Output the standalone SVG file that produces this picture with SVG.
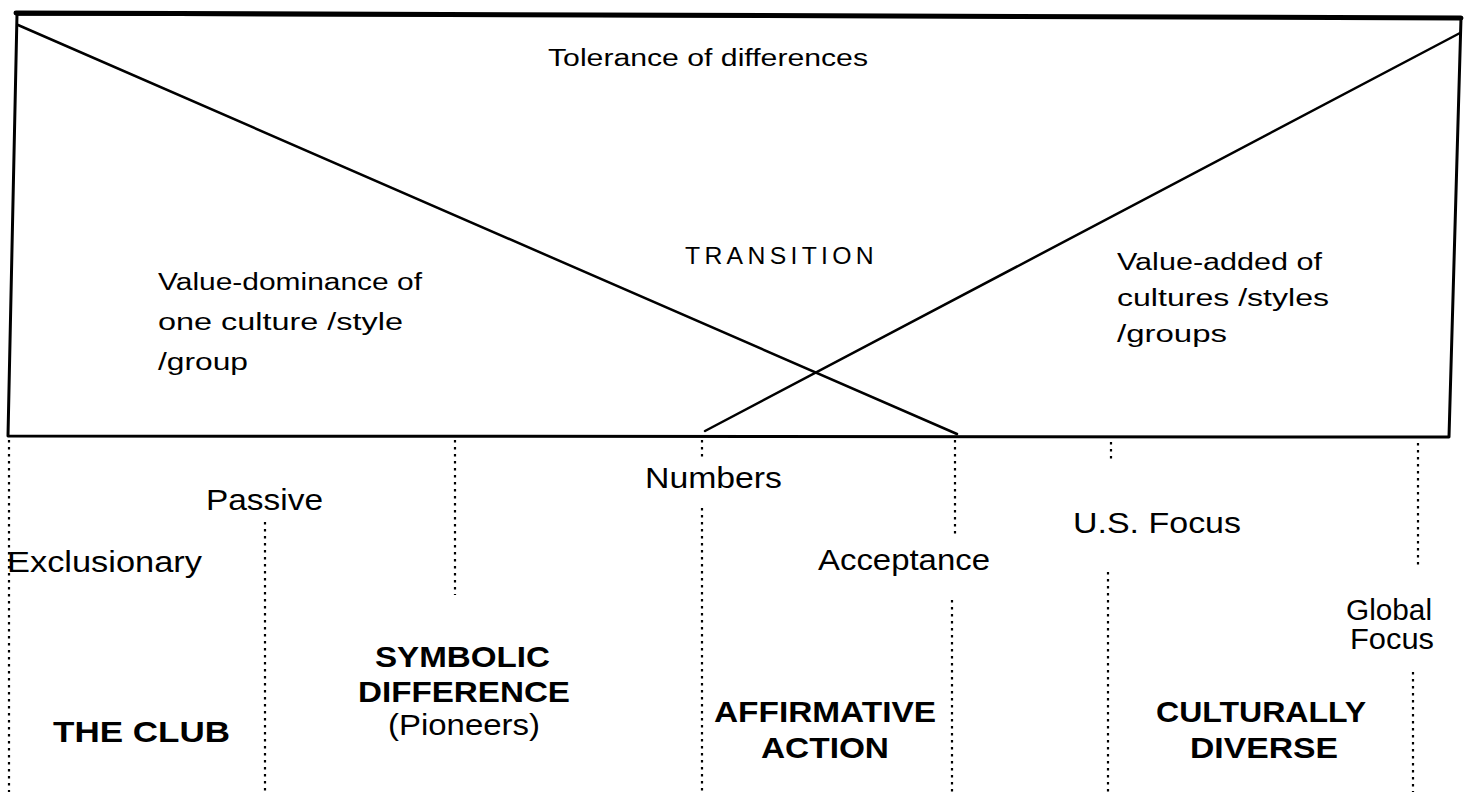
<svg xmlns="http://www.w3.org/2000/svg" width="1469" height="794" viewBox="0 0 1469 794">
<style>
.edge{stroke:#000;fill:none;stroke-linecap:round;stroke-linejoin:round}
.dot{stroke:#000;stroke-width:2.2;stroke-dasharray:2.5 4.5;fill:none}
.up{font-family:"Liberation Sans",Arial,sans-serif;font-size:23px;fill:#000}
.lo{font-family:"Liberation Sans",Arial,sans-serif;font-size:29px;fill:#000}
.bd{font-family:"Liberation Sans",Arial,sans-serif;font-size:30px;font-weight:bold;fill:#000}
</style>
<rect width="1469" height="794" fill="#fff"/>
<g id="frame">
<polygon class="edge" stroke-width="3" points="17,14 1461,18 1449,437 8,436"/>
<line class="edge" stroke-width="5" x1="16" y1="13" x2="1461" y2="18"/>
</g>
<g id="connectors">
<line class="edge" stroke-width="2.5" x1="18" y1="25" x2="957" y2="434"/>
<line class="edge" stroke-width="2.5" x1="705" y1="431" x2="1460" y2="33"/>
<path class="dot" d="M9,440V792 M265,522V792 M455,440V595 M702,440V460 M702,508V792 M955,440V535 M952,600V792 M1111,442V462 M1108,572V792 M1418,443V567 M1413,672V792"/>
</g>
<g id="tolerance"><text class="up" x="548" y="66" textLength="320" lengthAdjust="spacingAndGlyphs">Tolerance of differences</text></g>
<g id="transition"><text class="up" x="685" y="264" font-size="25" textLength="193" lengthAdjust="spacingAndGlyphs" letter-spacing="4">TRANSITION</text></g>
<g id="value-dominance">
<text class="up" x="158" y="290" textLength="264" lengthAdjust="spacingAndGlyphs">Value-dominance of</text>
<text class="up" x="158" y="330" textLength="245" lengthAdjust="spacingAndGlyphs">one culture /style</text>
<text class="up" x="158" y="370" textLength="90" lengthAdjust="spacingAndGlyphs">/group</text>
</g>
<g id="value-added">
<text class="up" x="1117" y="270" textLength="205" lengthAdjust="spacingAndGlyphs">Value-added of</text>
<text class="up" x="1117" y="306" textLength="212" lengthAdjust="spacingAndGlyphs">cultures /styles</text>
<text class="up" x="1117" y="342" textLength="110" lengthAdjust="spacingAndGlyphs">/groups</text>
</g>
<g id="passive"><text class="lo" x="206" y="510" textLength="117" lengthAdjust="spacingAndGlyphs">Passive</text></g>
<g id="exclusionary"><text class="lo" x="7" y="572" textLength="195" lengthAdjust="spacingAndGlyphs">Exclusionary</text></g>
<g id="numbers"><text class="lo" x="645" y="488" textLength="137" lengthAdjust="spacingAndGlyphs">Numbers</text></g>
<g id="acceptance"><text class="lo" x="818" y="570" textLength="172" lengthAdjust="spacingAndGlyphs">Acceptance</text></g>
<g id="us-focus"><text class="lo" x="1073" y="533" textLength="168" lengthAdjust="spacingAndGlyphs">U.S. Focus</text></g>
<g id="global-focus">
<text class="lo" x="1346" y="620" font-size="24" textLength="86" lengthAdjust="spacingAndGlyphs">Global</text>
<text class="lo" x="1350" y="649" font-size="24" textLength="84" lengthAdjust="spacingAndGlyphs">Focus</text>
</g>
<g id="the-club"><text class="bd" x="53" y="742" textLength="177" lengthAdjust="spacingAndGlyphs">THE CLUB</text></g>
<g id="symbolic">
<text class="bd" x="375" y="667" textLength="175" lengthAdjust="spacingAndGlyphs">SYMBOLIC</text>
<text class="bd" x="358" y="702" textLength="212" lengthAdjust="spacingAndGlyphs">DIFFERENCE</text>
<text class="lo" x="388" y="735" font-size="28" textLength="152" lengthAdjust="spacingAndGlyphs">(Pioneers)</text>
</g>
<g id="affirmative">
<text class="bd" x="714" y="722" textLength="222" lengthAdjust="spacingAndGlyphs">AFFIRMATIVE</text>
<text class="bd" x="761" y="758" textLength="128" lengthAdjust="spacingAndGlyphs">ACTION</text>
</g>
<g id="culturally">
<text class="bd" x="1156" y="722" textLength="210" lengthAdjust="spacingAndGlyphs">CULTURALLY</text>
<text class="bd" x="1190" y="758" textLength="148" lengthAdjust="spacingAndGlyphs">DIVERSE</text>
</g>
</svg>
